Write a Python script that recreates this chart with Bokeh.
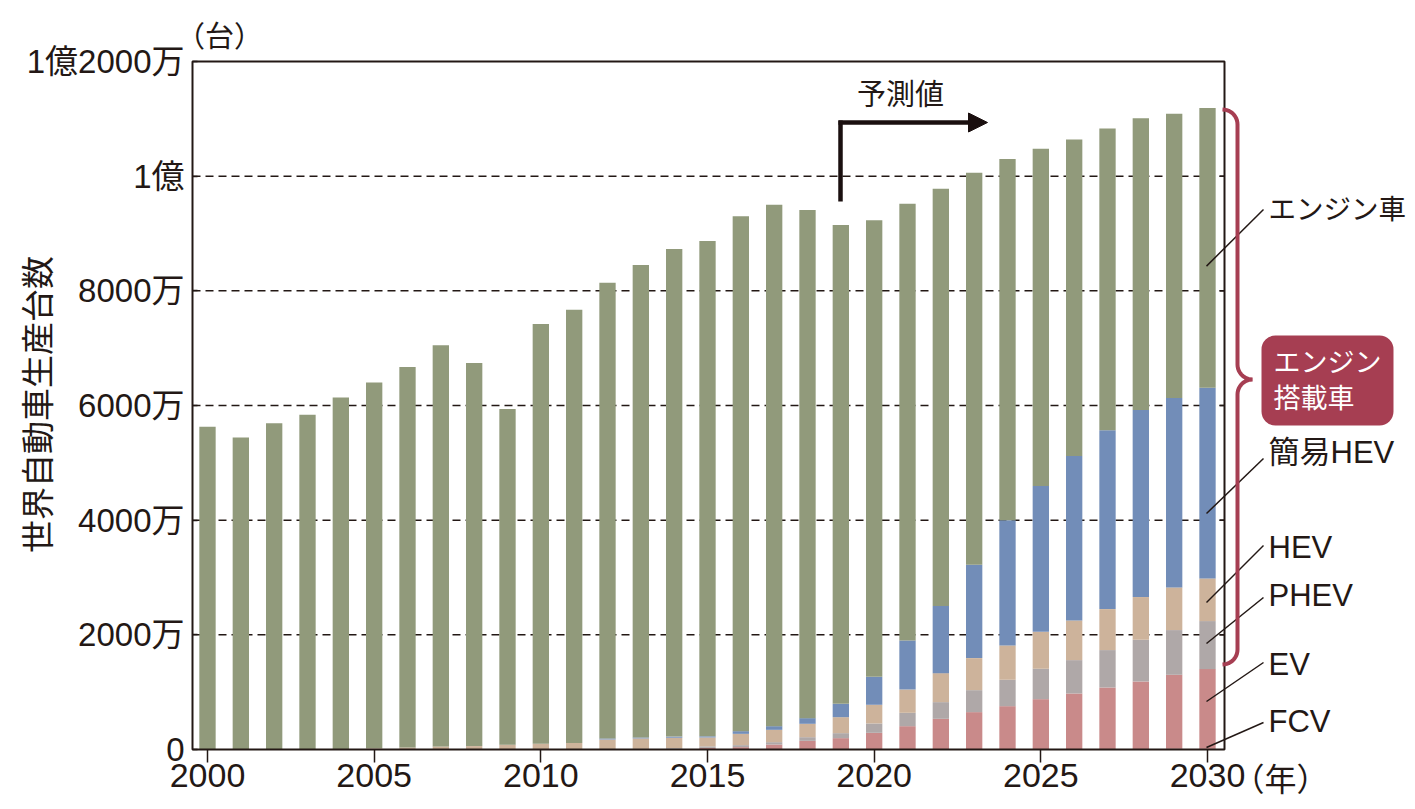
import numpy as np
from bokeh.plotting import figure
from bokeh.models import (ColumnDataSource, FixedTicker, Label, Arrow,
                          NormalHead, PolyAnnotation, BoxAnnotation, Range1d)
from bokeh.embed import file_html
from bokeh.resources import INLINE

# ---------------- data (万台) ----------------
years = list(range(2000, 2031))
fcv = [0, 0, 0, 0, 0, 0, 0, 0, 0, 0, 0, 0, 0, 0, 0, 0, 0, 0, 0, 0,
       1, 1, 2, 3, 4, 5, 6, 8, 10, 12, 15]
ev = [0, 0, 0, 0, 0, 0, 0, 0, 0, 0, 1, 2, 2, 5, 12, 28, 41, 87, 151, 198,
      290, 406, 533, 649, 752, 873, 971, 1074, 1177, 1291, 1387]
phev = [0, 0, 0, 0, 0, 0, 0, 0, 0, 0, 0, 1, 3, 5, 13, 27, 35, 41, 64, 87,
        163, 233, 291, 383, 460, 530, 582, 652, 727, 780, 838]
hev = [1, 3, 4, 6, 10, 20, 36, 54, 60, 84, 100, 112, 170, 183, 180, 155, 197, 215, 233, 279,
       326, 407, 506, 559, 599, 645, 692, 715, 745, 744, 744]
mild_hev = [0, 0, 0, 0, 0, 0, 0, 0, 0, 0, 0, 0, 18, 17, 20, 20, 47, 64, 99, 233,
            488, 855, 1169, 1629, 2185, 2543, 2869, 3121, 3261, 3303, 3326]
engine = [5629, 5437, 5686, 5834, 6130, 6380, 6634, 6996, 6680, 5856, 7319, 7555, 7947, 8240, 8505,
          8640, 8980, 9093, 8863, 8353, 7962, 7618, 7279, 6837, 6300, 5884, 5520, 5260, 5090, 4960, 4880]

series_names = ["FCV", "EV", "PHEV", "HEV", "簡易HEV", "エンジン車"]
series_colors = ["#b86f7a", "#c98a8a", "#afa8a8", "#cdb39b", "#728db8", "#919a7b"]

x_ticks = [2000, 2005, 2010, 2015, 2020, 2025, 2030]
y_ticks = [0, 2000, 4000, 6000, 8000, 10000, 12000]
y_tick_labels = ["0", "2000万", "4000万", "6000万", "8000万", "1億", "1億2000万"]
grid_ticks = [2000, 4000, 6000, 8000, 10000]
x_min, x_max = 1999.55, 2030.51      # extent of the plotting box
y_min, y_max = 0, 12000

INK = "#231815"
CRIMSON = "#a63e52"
FONT = "Liberation Sans, Noto Sans CJK JP"

W, H = 1415, 809

# mapping from page pixels to data units (used only to place annotations)
def dx(px):
    return 2000 + (px - 207) * 30.0 / 1000.0

def dy(py):
    return (749 - py) * 12000.0 / 688.0

source = ColumnDataSource(dict(year=years, FCV=fcv, EV=ev, PHEV=phev, HEV=hev,
                               **{"簡易HEV": mild_hev, "エンジン車": engine}))

p = figure(width=W, height=H, x_range=Range1d(dx(0), dx(W)), y_range=Range1d(dy(H), dy(0)),
           output_backend="svg", toolbar_location=None, min_border=0)
p.background_fill_color = "white"
p.border_fill_color = "white"
p.outline_line_color = None

# dashed grid lines limited to the plotting box (drawn before bars -> behind)
n = len(grid_ticks)
p.segment(x0=[x_min] * n, x1=[x_max] * n, y0=grid_ticks, y1=grid_ticks,
          line_color=INK, line_width=1.5, line_dash="8 5")

p.vbar_stack(series_names, x="year", width=0.49, color=series_colors, line_alpha=0, source=source)

# inward ticks on the right edge of the box
tick_len = 5 * 30.0 / 1000.0
p.segment(x0=[x_max - tick_len] * n, x1=[x_max] * n, y0=grid_ticks, y1=grid_ticks,
          line_color=INK, line_width=1.5)

# plotting box frame
p.add_layout(BoxAnnotation(left=x_min, right=x_max, bottom=y_min, top=y_max, fill_alpha=0,
                           line_color=INK, line_width=2, line_alpha=1))

# axes
p.xgrid.visible = False
p.ygrid.visible = False

xa = p.xaxis[0]
xa.fixed_location = y_min
xa.ticker = FixedTicker(ticks=x_ticks)
xa.axis_line_color = None
xa.major_tick_in = 0
xa.major_tick_out = 13
xa.major_tick_line_color = INK
xa.major_tick_line_width = 1.5
xa.minor_tick_line_color = None
xa.major_label_text_font = FONT
xa.major_label_text_font_size = "34px"
xa.major_label_text_color = INK
xa.major_label_standoff = 1

ya = p.yaxis[0]
ya.fixed_location = x_min
ya.ticker = FixedTicker(ticks=y_ticks)
ya.major_label_overrides = {t: l for t, l in zip(y_ticks, y_tick_labels)}
ya.axis_line_color = None
ya.major_tick_in = 5
ya.major_tick_out = 0
ya.major_tick_line_color = INK
ya.major_tick_line_width = 1.5
ya.minor_tick_line_color = None
ya.major_label_text_font = FONT
ya.major_label_text_font_size = "33px"
ya.major_label_text_color = INK
ya.major_label_standoff = 8

# ---------------- annotations ----------------
def add_label(px, py, text, size, align="left", color=INK, angle=0.0, **kw):
    p.add_layout(Label(x=dx(px), y=dy(py), text=text, text_font=FONT, text_font_size=size,
                       text_color=color, text_align=align, text_baseline="middle",
                       angle=angle, **kw))

add_label(38, 404, "世界自動車生産台数", "33px", align="center", angle=np.pi / 2)
add_label(219, 36, "（台）", "29px", align="center")
add_label(1232, 779, "（年）", "32px", align="left")
add_label(900, 94, "予測値", "29px", align="center")

# forecast arrow
p.add_layout(Arrow(end=None, x_start=dx(840), y_start=dy(201), x_end=dx(840), y_end=dy(120),
                   line_color="#1a0f0f", line_width=4.5))
p.add_layout(Arrow(end=NormalHead(size=19, fill_color="#1a0f0f", line_color="#1a0f0f"),
                   x_start=dx(838), y_start=dy(122), x_end=dx(987), y_end=dy(122),
                   line_color="#1a0f0f", line_width=4.5))

# leader lines and series labels
leaders = [
    ("エンジン車", 265.6, 209, 209, "27.5px"),
    ("簡易HEV", 513, 458, 452, "31px"),
    ("HEV", 602, 545, 547, "31px"),
    ("PHEV", 643, 597, 595, "31px"),
    ("EV", 701, 662, 664, "31px"),
    ("FCV", 747, 722, 721, "31px"),
]
for name, y0, y1, ty, fs in leaders:
    p.add_layout(Arrow(end=None, x_start=dx(1206), y_start=dy(y0), x_end=dx(1263), y_end=dy(y1),
                       line_color=INK, line_width=1.5))
    add_label(1268, ty, name, fs)

# curly brace
t = np.linspace(0, np.pi / 2, 12)
r = 15
bx = np.concatenate([1222 + r * np.sin(t), 1252 - r * np.cos(t), 1252 - r * np.sin(t), 1222 + r * np.cos(t)])
by = np.concatenate([124 - r * np.cos(t), 364 + r * np.sin(t), 394 - r * np.cos(t), 649 + r * np.sin(t)])
bx_path = np.concatenate([bx, bx[::-1]])
by_path = np.concatenate([by, by[::-1]])
p.add_layout(PolyAnnotation(xs=[dx(v) for v in bx_path], ys=[dy(v) for v in by_path],
                            fill_alpha=0, line_color=CRIMSON, line_alpha=1.0, line_width=4))

# boxed label
add_label(1261, 380, "エンジン\n搭載車", "27px", color="white",
          background_fill_color=CRIMSON, border_radius=14, padding=12, text_line_height=1.2)

open("out.html", "w").write(file_html(p, INLINE))
